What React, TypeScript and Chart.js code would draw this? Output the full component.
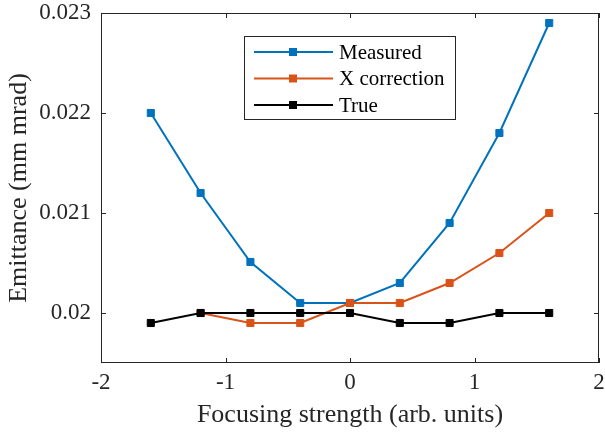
import React, { useEffect, useRef } from "react";
import { Chart, registerables } from "chart.js";

Chart.register(...registerables);

const focusing = [-1.6, -1.2, -0.8, -0.4, 0, 0.4, 0.8, 1.2, 1.6];
const measured = [0.022, 0.0212, 0.02051, 0.0201, 0.0201, 0.0203, 0.0209, 0.0218, 0.0229];
const xCorrection = [null, 0.02, 0.0199, 0.0199, 0.0201, 0.0201, 0.0203, 0.0206, 0.021];
const trueVals = [0.0199, 0.02, 0.02, 0.02, 0.02, 0.0199, 0.0199, 0.02, 0.02];
const seriesNames = ["Measured", "X correction", "True"];
const seriesColors = ["#0072BD", "#D95319", "#000000"];
const xTicks = [-2, -1, 0, 1, 2];
const yTicks = [0.02, 0.021, 0.022, 0.023];

const FONT = "'Liberation Serif', 'Times New Roman', serif";
const AXIS_COLOR = "#262626";

const toPoints = (ys: (number | null)[]) => focusing.map((x, i) => ({ x, y: ys[i] }));

const boxTicksPlugin = {
  id: "boxTicks",
  afterDatasetsDraw(chart: any) {
    const { ctx, chartArea } = chart;
    const { left, right, top, bottom } = chartArea;
    const xs = chart.scales.x;
    const ys = chart.scales.y;
    ctx.save();
    ctx.strokeStyle = AXIS_COLOR;
    ctx.lineWidth = 1;
    const tl = 5;
    ctx.beginPath();
    xTicks.forEach((v) => {
      const px = Math.round(xs.getPixelForValue(v)) + 0.5;
      ctx.moveTo(px, bottom);
      ctx.lineTo(px, bottom - tl);
      ctx.moveTo(px, top);
      ctx.lineTo(px, top + tl);
    });
    yTicks.forEach((v) => {
      const py = Math.round(ys.getPixelForValue(v)) + 0.5;
      ctx.moveTo(left, py);
      ctx.lineTo(left + tl, py);
      ctx.moveTo(right, py);
      ctx.lineTo(right - tl, py);
    });
    ctx.stroke();
    ctx.strokeRect(Math.round(left) + 0.5, Math.round(top) + 0.5, Math.round(right - left) - 1, Math.round(bottom - top) - 1);

    // legend
    const lx = 244.5, ly = 36.5, lw = 211, lh = 83;
    ctx.fillStyle = "#ffffff";
    ctx.fillRect(lx, ly, lw, lh);
    ctx.strokeStyle = AXIS_COLOR;
    ctx.strokeRect(lx, ly, lw, lh);
    ctx.font = `21px ${FONT}`;
    ctx.textBaseline = "middle";
    ctx.textAlign = "left";
    seriesNames.forEach((name, i) => {
      const cy = 52 + i * 26.5;
      ctx.strokeStyle = seriesColors[i];
      ctx.lineWidth = 2;
      ctx.beginPath();
      ctx.moveTo(254, cy);
      ctx.lineTo(333, cy);
      ctx.stroke();
      ctx.fillStyle = seriesColors[i];
      ctx.fillRect(289, cy - 4, 8, 8);
      ctx.fillStyle = "#000000";
      ctx.fillText(name, 339, cy + 1);
    });
    ctx.restore();
  },
};

export default function App() {
  const ref = useRef<HTMLCanvasElement | null>(null);
  useEffect(() => {
    if (!ref.current) return;
    const orders = [2, 1, 0];
    const datasets = [measured, xCorrection, trueVals].map((ys, i) => ({
      label: seriesNames[i],
      data: toPoints(ys),
      order: orders[i],
      showLine: true,
      spanGaps: false,
      borderColor: seriesColors[i],
      backgroundColor: seriesColors[i],
      borderWidth: 2,
      pointStyle: "rect" as const,
      pointRadius: 5,
      pointBorderWidth: 1,
      pointBorderColor: seriesColors[i],
      pointBackgroundColor: seriesColors[i],
    }));
    const chart = new Chart(ref.current, {
      type: "scatter",
      data: { datasets },
      plugins: [boxTicksPlugin],
      options: {
        animation: false,
        responsive: false,
        layout: { padding: { top: 13, right: 5, left: 0, bottom: 0 } },
        plugins: { legend: { display: false }, tooltip: { enabled: false } },
        scales: {
          x: {
            type: "linear",
            min: -2,
            max: 2,
            afterBuildTicks: (s: any) => {
              s.ticks = xTicks.map((v) => ({ value: v }));
            },
            afterFit: (s: any) => {
              s.height = 74;
              s.paddingLeft = 0;
              s.paddingRight = 0;
            },
            grid: { display: false, drawTicks: false },
            border: { display: false },
            ticks: {
              color: AXIS_COLOR,
              font: { family: FONT, size: 23 },
              padding: 6,
              maxRotation: 0,
              autoSkip: false,
              callback: (v: any) => String(v),
            },
            title: {
              display: true,
              text: "Focusing strength (arb. units)",
              color: AXIS_COLOR,
              font: { family: FONT, size: 26 },
              padding: { top: 6, bottom: 6 },
            },
          },
          y: {
            type: "linear",
            min: 0.0195,
            max: 0.023,
            afterBuildTicks: (s: any) => {
              s.ticks = yTicks.map((v) => ({ value: v }));
            },
            afterFit: (s: any) => {
              s.width = 101;
              s.paddingTop = 0;
              s.paddingBottom = 0;
            },
            grid: { display: false, drawTicks: false },
            border: { display: false },
            ticks: {
              color: AXIS_COLOR,
              font: { family: FONT, size: 23 },
              padding: 10,
              autoSkip: false,
              callback: (v: any) => String(Number(v.toFixed(4))),
            },
            title: {
              display: true,
              text: "Emittance (mm mrad)",
              color: AXIS_COLOR,
              font: { family: FONT, size: 26 },
              padding: { top: 4, bottom: 4 },
            },
          },
        },
      },
    });
    return () => chart.destroy();
  }, []);
  return (
    <div style={{ position: "absolute", left: 0, top: 0, width: 605, height: 437, background: "#fff" }}>
      <canvas ref={ref} width={605} height={437} style={{ width: 605, height: 437 }} />
    </div>
  );
}
